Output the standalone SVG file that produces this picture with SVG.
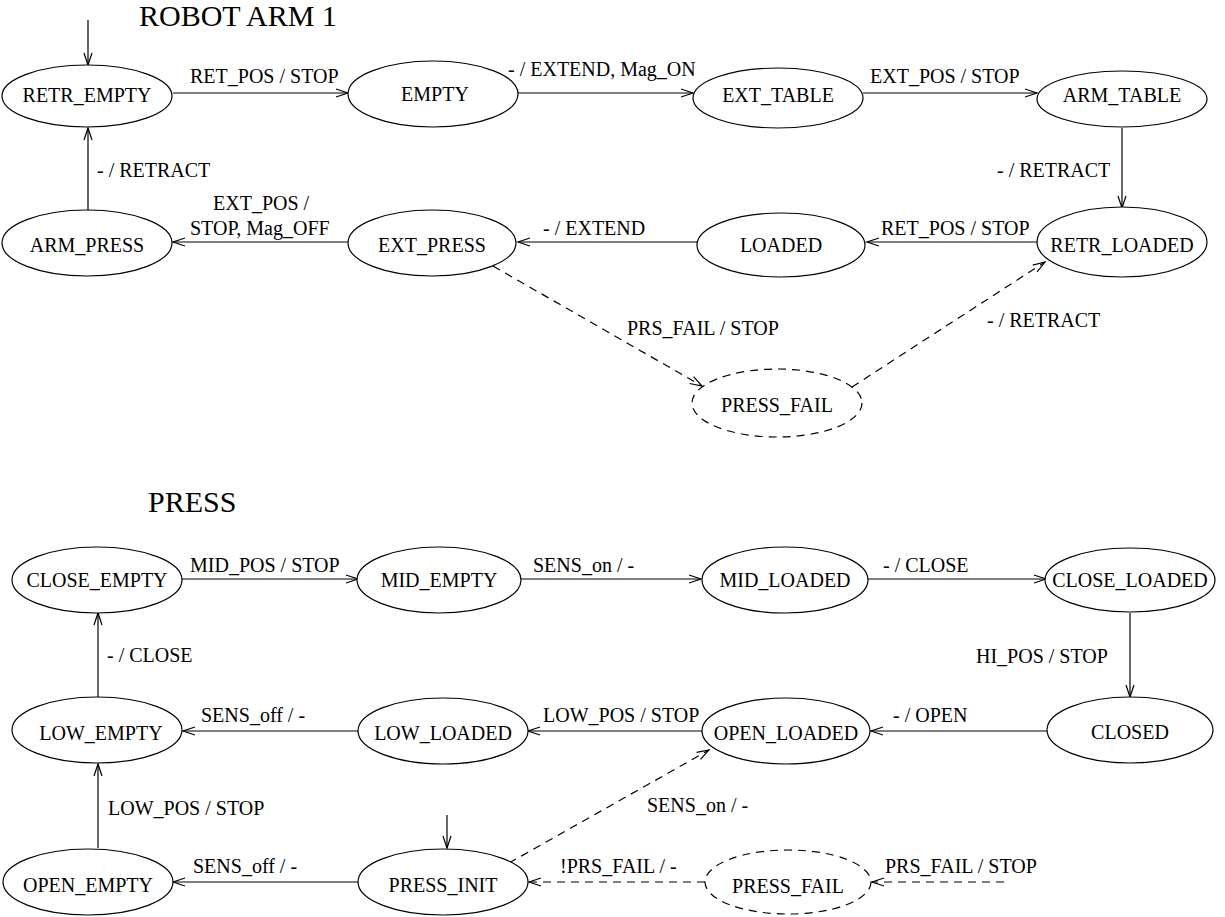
<svg xmlns="http://www.w3.org/2000/svg" width="1225" height="917" viewBox="0 0 1225 917">
  <style>
    text { font-family: "Liberation Serif", "Times New Roman", serif; fill: #000; }
    .title { font-size: 30px; }
    .lbl { font-size: 20px; }
    .state { font-size: 20px; text-anchor: middle; }
    .node ellipse { fill: #fff; stroke: #000; stroke-width: 1.2; }
    .fail ellipse { stroke-dasharray: 8 6; }
    .edge { fill: none; stroke: #000; stroke-width: 1.2; marker-end: url(#open); }
    .dash { stroke-dasharray: 8 6; }
  </style>
  <defs>
    <marker id="open" markerUnits="userSpaceOnUse" markerWidth="16" markerHeight="12" viewBox="-14 -6 16 12" refX="0" refY="0" orient="auto">
      <path d="M-12,-4 L0,0 L-12,4" fill="none" stroke="#000" stroke-width="1.2"/>
    </marker>
  </defs>
  <rect width="1225" height="917" fill="#fff"/>

  <!-- Section titles -->
  <text class="title" x="139" y="26">ROBOT ARM 1</text>
  <text class="title" x="148" y="512">PRESS</text>

  <!-- Transitions -->
  <g id="connectors">
    <!-- robot arm -->
    <line class="edge" x1="88" y1="20" x2="88" y2="65"/>
    <line class="edge" x1="173" y1="93" x2="348" y2="93"/>
    <line class="edge" x1="518" y1="93" x2="693" y2="93"/>
    <line class="edge" x1="863" y1="93" x2="1037" y2="93"/>
    <line class="edge" x1="1122" y1="128" x2="1122" y2="208"/>
    <line class="edge" x1="1037" y1="242" x2="867" y2="242"/>
    <line class="edge" x1="697" y1="242" x2="518" y2="242"/>
    <line class="edge" x1="348" y1="242" x2="173" y2="242"/>
    <line class="edge" x1="88" y1="210" x2="88" y2="128"/>
    <line class="edge dash" x1="493" y1="266" x2="702" y2="386"/>
    <line class="edge dash" x1="852" y1="387" x2="1045" y2="262"/>
    <!-- press -->
    <line class="edge" x1="182" y1="579" x2="358" y2="579"/>
    <line class="edge" x1="521" y1="579" x2="701" y2="579"/>
    <line class="edge" x1="868" y1="579" x2="1046" y2="579"/>
    <line class="edge" x1="1130" y1="613" x2="1130" y2="697"/>
    <line class="edge" x1="1047" y1="731" x2="871" y2="731"/>
    <line class="edge" x1="702" y1="731" x2="528" y2="731"/>
    <line class="edge" x1="358" y1="731" x2="183" y2="731"/>
    <line class="edge" x1="98" y1="697" x2="98" y2="613"/>
    <line class="edge" x1="98" y1="848" x2="98" y2="764"/>
    <line class="edge" x1="447" y1="815" x2="447" y2="848"/>
    <line class="edge" x1="358" y1="882" x2="173" y2="882"/>
    <line class="edge dash" x1="705" y1="882" x2="529" y2="882"/>
    <line class="edge dash" x1="1004" y1="882" x2="872" y2="882"/>
    <line class="edge dash" x1="509" y1="863" x2="709" y2="750"/>

    <!-- transition labels -->
    <text class="lbl" x="190" y="83">RET_POS / STOP</text>
    <text class="lbl" x="508" y="76">- / EXTEND, Mag_ON</text>
    <text class="lbl" x="870" y="83">EXT_POS / STOP</text>
    <text class="lbl" x="997" y="177">- / RETRACT</text>
    <text class="lbl" x="97" y="177">- / RETRACT</text>
    <text class="lbl" x="881" y="235">RET_POS / STOP</text>
    <text class="lbl" x="543" y="235">- / EXTEND</text>
    <text class="lbl" x="213" y="210">EXT_POS /</text>
    <text class="lbl" x="190" y="235">STOP, Mag_OFF</text>
    <text class="lbl" x="627" y="335">PRS_FAIL / STOP</text>
    <text class="lbl" x="987" y="327">- / RETRACT</text>

    <text class="lbl" x="190" y="572">MID_POS / STOP</text>
    <text class="lbl" x="533" y="572">SENS_on / -</text>
    <text class="lbl" x="883" y="572">- / CLOSE</text>
    <text class="lbl" x="976" y="663">HI_POS / STOP</text>
    <text class="lbl" x="107" y="662">- / CLOSE</text>
    <text class="lbl" x="893" y="722">- / OPEN</text>
    <text class="lbl" x="543" y="722">LOW_POS / STOP</text>
    <text class="lbl" x="201" y="722">SENS_off / -</text>
    <text class="lbl" x="108" y="815">LOW_POS / STOP</text>
    <text class="lbl" x="647" y="812">SENS_on / -</text>
    <text class="lbl" x="193" y="873">SENS_off / -</text>
    <text class="lbl" x="560" y="873">!PRS_FAIL / -</text>
    <text class="lbl" x="885" y="873">PRS_FAIL / STOP</text>
  </g>

  <!-- Robot arm states -->
  <g id="retr_empty" class="node"><ellipse cx="87" cy="96" rx="85" ry="31"/><text class="state" x="87" y="102">RETR_EMPTY</text></g>
  <g id="empty" class="node"><ellipse cx="433" cy="94" rx="85" ry="33"/><text class="state" x="435" y="101">EMPTY</text></g>
  <g id="ext_table" class="node"><ellipse cx="778" cy="98" rx="85" ry="30"/><text class="state" x="778" y="102">EXT_TABLE</text></g>
  <g id="arm_table" class="node"><ellipse cx="1122" cy="99" rx="85" ry="28"/><text class="state" x="1122" y="102">ARM_TABLE</text></g>
  <g id="arm_press" class="node"><ellipse cx="87" cy="243" rx="85" ry="33"/><text class="state" x="87" y="252">ARM_PRESS</text></g>
  <g id="ext_press" class="node"><ellipse cx="432" cy="243" rx="84" ry="33"/><text class="state" x="432" y="252">EXT_PRESS</text></g>
  <g id="loaded" class="node"><ellipse cx="781" cy="245" rx="84" ry="32"/><text class="state" x="781" y="252">LOADED</text></g>
  <g id="retr_loaded" class="node"><ellipse cx="1122" cy="242" rx="85" ry="35"/><text class="state" x="1122" y="252">RETR_LOADED</text></g>
  <g id="arm_press_fail" class="node fail"><ellipse cx="777" cy="403" rx="85" ry="34"/><text class="state" x="777" y="412">PRESS_FAIL</text></g>

  <!-- Press states -->
  <g id="close_empty" class="node"><ellipse cx="97" cy="580" rx="85" ry="33"/><text class="state" x="97" y="587">CLOSE_EMPTY</text></g>
  <g id="mid_empty" class="node"><ellipse cx="439" cy="580" rx="82" ry="33"/><text class="state" x="439" y="587">MID_EMPTY</text></g>
  <g id="mid_loaded" class="node"><ellipse cx="785" cy="580" rx="83" ry="33"/><text class="state" x="785" y="587">MID_LOADED</text></g>
  <g id="close_loaded" class="node"><ellipse cx="1130" cy="580" rx="85" ry="32"/><text class="state" x="1130" y="587">CLOSE_LOADED</text></g>
  <g id="low_empty" class="node"><ellipse cx="97" cy="730" rx="85" ry="33"/><text class="state" x="101" y="740">LOW_EMPTY</text></g>
  <g id="low_loaded" class="node"><ellipse cx="443" cy="731" rx="85" ry="33"/><text class="state" x="443" y="740">LOW_LOADED</text></g>
  <g id="open_loaded" class="node"><ellipse cx="786" cy="731" rx="84" ry="33"/><text class="state" x="786" y="740">OPEN_LOADED</text></g>
  <g id="closed" class="node"><ellipse cx="1130" cy="730" rx="83" ry="33"/><text class="state" x="1130" y="739">CLOSED</text></g>
  <g id="open_empty" class="node"><ellipse cx="88" cy="882" rx="85" ry="33"/><text class="state" x="88" y="892">OPEN_EMPTY</text></g>
  <g id="press_init" class="node"><ellipse cx="443" cy="882" rx="85" ry="33"/><text class="state" x="443" y="892">PRESS_INIT</text></g>
  <g id="press_fail" class="node fail"><ellipse cx="788" cy="882" rx="83" ry="32"/><text class="state" x="788" y="893">PRESS_FAIL</text></g>
</svg>
